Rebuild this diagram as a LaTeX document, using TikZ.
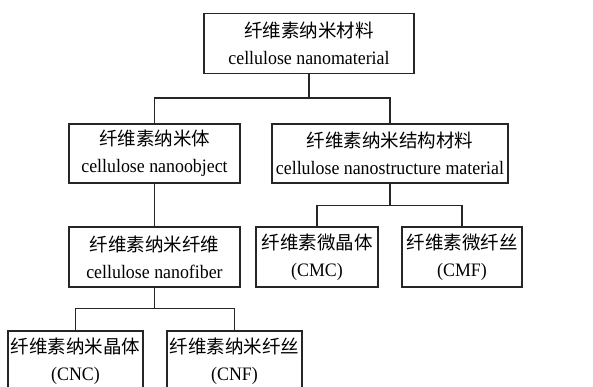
\documentclass[tikz,border=0pt]{standalone}
\usepackage{fontspec}
\setmainfont[FakeStretch=0.94]{Liberation Serif}
\newfontfamily\cjk{Noto Sans CJK SC}
\newcommand\zh[1]{{\cjk\fontsize{18.5}{27}\selectfont #1}}

\begin{document}
\begin{tikzpicture}[x=1pt, y=1pt,
    box/.style={draw=black!85, line width=1.2pt, align=center, inner sep=0pt,
        minimum height=60pt, font=\fontsize{19}{27}\selectfont},
    link/.style={draw=black!85, line width=1.2pt}]
    % Cadre
    \useasboundingbox (0,0) rectangle (593,387);
    \clip (0,0) rectangle (593,387);

    % Niveau 1
    \node[box, minimum width=210pt] (top) at (309,343.5)
        {\zh{纤维素纳米材料}\\cellulose nanomaterial};

    % Niveau 2
    \node[box, minimum width=171pt, minimum height=59pt] (obj) at (154.5,233.5)
        {\zh{纤维素纳米体}\\cellulose nanoobject};
    \node[box, minimum width=236pt, minimum height=59pt] (struct) at (390,233.5)
        {\zh{纤维素纳米结构材料}\\cellulose nanostructure material};

    % Niveau 3
    \node[box, minimum width=171pt] (fiber) at (154.5,130)
        {\zh{纤维素纳米纤维}\\cellulose nanofiber};
    \node[box, minimum width=122pt] (cmc) at (317,130)
        {\zh{纤维素微晶体}\\(CMC)};
    \node[box, minimum width=120pt] (cmf) at (462,130)
        {\zh{纤维素微纤丝}\\(CMF)};

    % Niveau 4
    \node[box, minimum width=135pt] (cnc) at (75.5,26)
        {\zh{纤维素纳米晶体}\\(CNC)};
    \node[box, minimum width=135pt] (cnf) at (234.5,26)
        {\zh{纤维素纳米纤丝}\\(CNF)};

    % Liaisons
    \draw[link] (top.south) -- ++(0,-24) coordinate (j1);
    \draw[link] (obj.north) |- (j1) -| (struct.north);
    \draw[link] (obj.south) -- (fiber.north);
    \draw[link] (struct.south) -- ++(0,-22) coordinate (j2);
    \draw[link] (cmc.north) |- (j2) -| (cmf.north);
    \draw[link] (fiber.south) -- ++(0,-21) coordinate (j3);
    \draw[link] (cnc.north) |- (j3) -| (cnf.north);
\end{tikzpicture}
\end{document}
